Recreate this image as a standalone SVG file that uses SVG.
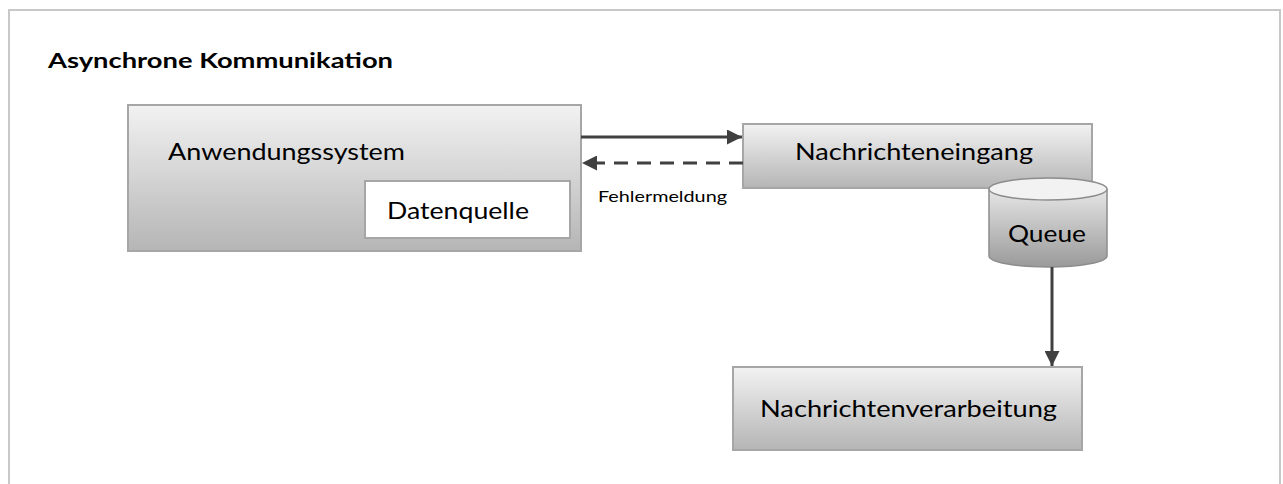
<svg xmlns="http://www.w3.org/2000/svg" width="1283" height="484" viewBox="0 0 1283 484">
<defs>
<linearGradient id="gBox" x1="0" y1="0" x2="0" y2="1">
<stop offset="0" stop-color="#f2f2f2"/>
<stop offset="1" stop-color="#b5b5b5"/>
</linearGradient>
<linearGradient id="gCyl" x1="0" y1="0" x2="0" y2="1">
<stop offset="0" stop-color="#e6e6e6"/>
<stop offset="1" stop-color="#9a9a9a"/>
</linearGradient>
<marker id="ah" viewBox="0 0 10 10" refX="10" refY="5" markerWidth="5" markerHeight="5" orient="auto" markerUnits="strokeWidth">
<path d="M0,0 L10,5 L0,10 z" fill="#404040"/>
</marker>
<style>
.box{fill:url(#gBox);stroke:#a6a6a6;stroke-width:2}
.t{font-family:Lato,"Liberation Sans",sans-serif;fill:#000}
.c{stroke:#404040;stroke-width:3;fill:none;marker-end:url(#ah)}
</style>
</defs>
<rect x="9" y="10" width="1271" height="490" fill="#fff" stroke="#c8c8c8" stroke-width="2"/>
<text class="t" x="48" y="68" font-size="21" font-weight="bold" textLength="345" lengthAdjust="spacingAndGlyphs">Asynchrone Kommunikation</text>
<g id="anwendungssystem">
<rect class="box" x="128" y="105" width="453" height="146"/>
<text class="t" x="168" y="160" font-size="23" textLength="237" lengthAdjust="spacingAndGlyphs">Anwendungssystem</text>
</g>
<g id="datenquelle">
<rect x="365" y="181" width="205" height="57" fill="#fff" stroke="#a6a6a6" stroke-width="2"/>
<text class="t" x="387" y="219" font-size="23" textLength="142" lengthAdjust="spacingAndGlyphs">Datenquelle</text>
</g>
<g id="nachrichteneingang">
<rect class="box" x="743" y="124" width="349" height="64"/>
<text class="t" x="795" y="160" font-size="23" textLength="238" lengthAdjust="spacingAndGlyphs">Nachrichteneingang</text>
</g>
<g id="queue">
<path d="M989,189 L989,256 A59,11 0 0 0 1107,256 L1107,189" fill="url(#gCyl)" stroke="#8c8c8c" stroke-width="1.5"/>
<ellipse cx="1048" cy="189" rx="59" ry="11" fill="#f2f2f2" stroke="#8c8c8c" stroke-width="1.5"/>
<text class="t" x="1008" y="242" font-size="23" textLength="78" lengthAdjust="spacingAndGlyphs">Queue</text>
</g>
<g id="nachrichtenverarbeitung">
<rect class="box" x="733" y="367" width="349" height="83"/>
<text class="t" x="760" y="417" font-size="23" textLength="297" lengthAdjust="spacingAndGlyphs">Nachrichtenverarbeitung</text>
</g>
<g id="connectors">
<line class="c" x1="581" y1="137" x2="742" y2="137"/>
<line class="c" x1="743" y1="163" x2="582" y2="163" stroke-dasharray="14,9"/>
<text class="t" x="598" y="202" font-size="15" textLength="129" lengthAdjust="spacingAndGlyphs">Fehlermeldung</text>
<line class="c" x1="1052" y1="267" x2="1052" y2="366"/>
</g>
</svg>
